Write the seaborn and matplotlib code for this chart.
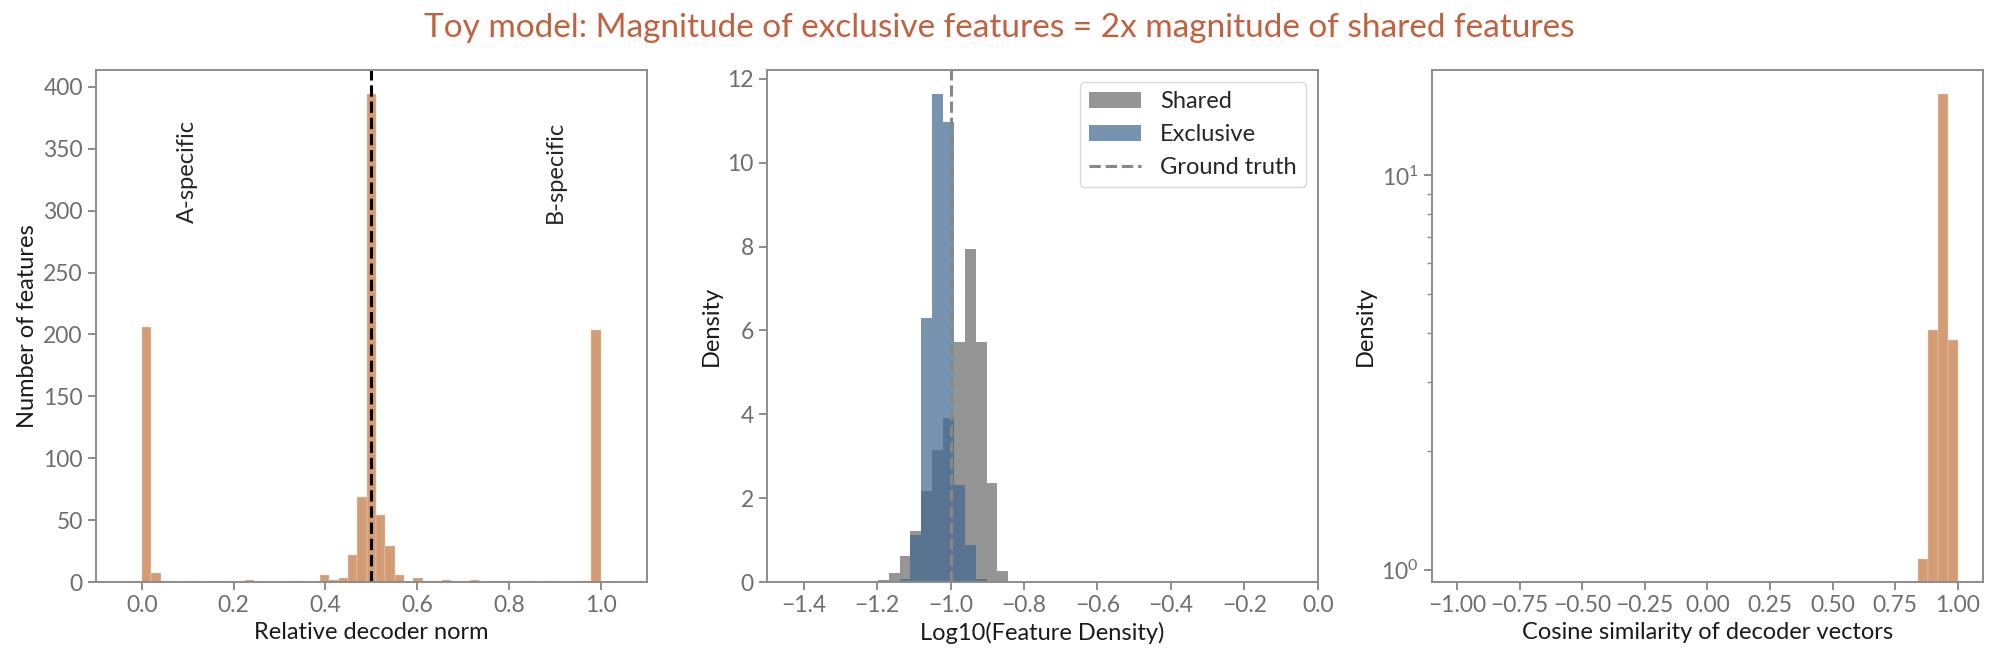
import numpy as np
import pandas as pd
import matplotlib
matplotlib.use("Agg")
import matplotlib.pyplot as plt
import matplotlib.ticker as mticker
import seaborn as sns

# panel 1: relative decoder norm, 49 bins on [0, 1]
norm_edges = np.linspace(0, 1, 50)
norm_counts = [206, 7, 1, 0, 0, 1, 0, 1, 1, 0,
               0, 2, 0, 0, 0, 0, 1, 0, 0, 6,
               2, 3, 22, 69, 394, 54, 29, 6, 0, 3,
               1, 1, 2, 1, 0, 2, 0, 1, 1, 0,
               0, 1, 0, 1, 0, 0, 0, 1, 204]

# panel 2: log10 feature density, shared vs exclusive
dens_edges = np.linspace(-1.198, -0.843, 13)
shared_density = [0.04, 0.21, 0.61, 1.21, 2.16, 3.16, 3.91, 5.73, 7.94, 5.73, 2.36, 0.26]
exclusive_density = [0, 0, 0.08, 1.13, 6.30, 11.63, 10.98, 2.31, 0.88, 0.08, 0, 0]
ground_truth = -1.0

# panel 3: cosine similarity, 50 bins on [-1, 1]
cos_edges = np.linspace(-1, 1, 51)
cos_density = [0] * 46 + [1.07, 4.05, 16.04, 3.83]

title = "Toy model: Magnitude of exclusive features = 2x magnitude of shared features"

orange = "#d39c74"
tick_grey = "#6e6e6e"
spine_grey = "#8c8c8c"

sns.set_style("ticks")
plt.rcParams["font.family"] = ["Lato", "DejaVu Sans"]
plt.rcParams.update({
    "axes.edgecolor": spine_grey,
    "axes.linewidth": 1.4,
    "xtick.color": spine_grey,
    "ytick.color": spine_grey,
    "xtick.labelcolor": tick_grey,
    "ytick.labelcolor": tick_grey,
    "xtick.major.size": 6,
    "ytick.major.size": 6,
    "xtick.major.width": 1.4,
    "ytick.major.width": 1.4,
    "xtick.labelsize": 16.5,
    "ytick.labelsize": 16.5,
    "axes.labelsize": 17,
    "axes.labelcolor": "#1a1a1a",
})


def hist_frame(edges, values):
    edges = np.asarray(edges, dtype=float)
    return pd.DataFrame({"x": (edges[:-1] + edges[1:]) / 2,
                         "w": np.asarray(values, dtype=float)})


fig, axes = plt.subplots(1, 3, figsize=(19.99, 6.66), dpi=100)
lefts = [0.048, 0.3837, 0.7164]
for ax, left in zip(axes, lefts):
    ax.set_position([left, 0.1261, 0.2755, 0.7688])

# panel 1
ax = axes[0]
sns.histplot(data=hist_frame(norm_edges, norm_counts), x="x", weights="w",
             bins=list(norm_edges), color=orange, alpha=1,
             edgecolor="#ecd2bf", linewidth=0.3, ax=ax)
ax.axvline(0.5, color="black", linestyle="--", linewidth=2.2)
ax.text(0.1, 290, "A-specific", rotation=90, ha="center", va="bottom", fontsize=17)
ax.text(0.9, 290, "B-specific", rotation=90, ha="center", va="bottom", fontsize=17)
ax.set_xlim(-0.1, 1.1)
ax.set_xticks(np.round(np.arange(0, 1.01, 0.2), 1))
ax.set_yticks(np.arange(0, 401, 50))
ax.set_xlabel("Relative decoder norm")
ax.set_ylabel("Number of features")

# panel 2
ax = axes[1]
sns.histplot(data=hist_frame(dens_edges, shared_density), x="x", weights="w",
             bins=list(dens_edges), color="#696969", alpha=0.7, linewidth=0,
             label="Shared", ax=ax)
sns.histplot(data=hist_frame(dens_edges, exclusive_density), x="x", weights="w",
             bins=list(dens_edges), color="#3e668e", alpha=0.7, linewidth=0,
             label="Exclusive", ax=ax)
ax.axvline(ground_truth, color="#888888", linestyle="--", linewidth=2.2,
           label="Ground truth")
ax.set_xlim(-1.5, 0.0)
ax.set_xticks(np.round(np.arange(-1.4, 0.01, 0.2), 1) + 0.0)
ax.set_yticks(np.arange(0, 13, 2))
ax.set_xlabel("Log10(Feature Density)")
ax.set_ylabel("Density")
handles, labels = ax.get_legend_handles_labels()
order = [labels.index(name) for name in ["Shared", "Exclusive", "Ground truth"]]
ax.legend([handles[i] for i in order], [labels[i] for i in order],
          loc="upper right", fontsize=17, frameon=True, fancybox=True,
          edgecolor="#d0d0d0", handlelength=2.2)

# panel 3
ax = axes[2]
sns.histplot(data=hist_frame(cos_edges, cos_density), x="x", weights="w",
             bins=list(cos_edges), color=orange, alpha=1,
             edgecolor="#ecd2bf", linewidth=0.3, ax=ax)
ax.set_yscale("log")
ax.set_ylim(0.934, 18.5)
ax.set_xlim(-1.1, 1.1)
ax.set_xticks(np.arange(-1, 1.01, 0.25))
ax.xaxis.set_major_formatter(mticker.FuncFormatter(
    lambda v, pos: f"{v:.2f}".replace("-", "\u2212")))
ax.yaxis.set_minor_formatter(mticker.NullFormatter())
ax.tick_params(axis="y", which="minor", length=3.5, width=1.0)
ax.set_xlabel("Cosine similarity of decoder vectors")
ax.set_ylabel("Density")

for ax in axes:
    for side in ["top", "right", "left", "bottom"]:
        ax.spines[side].set_visible(True)

fig.suptitle(title, color="#c0613f", fontsize=24, y=0.958, va="center")

fig.savefig("out.png", dpi=100)
